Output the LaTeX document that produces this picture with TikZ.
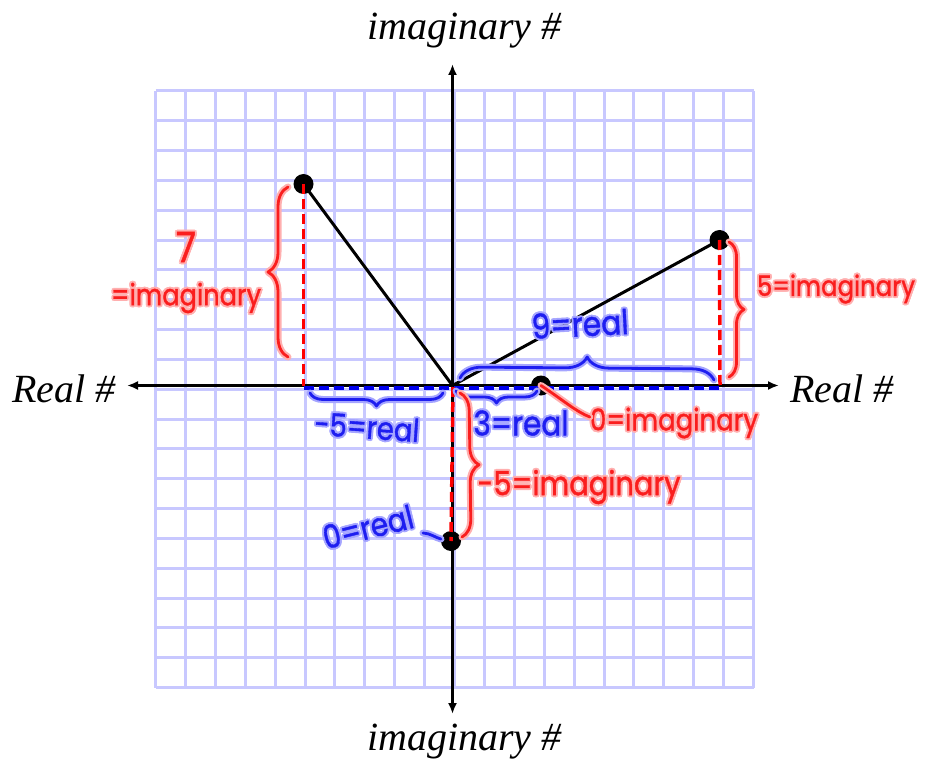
\documentclass[tikz,border=0pt]{standalone}
\usepackage{fontspec}
\setmainfont{Liberation Serif}
\newfontfamily\hwfont{Poppins}[FakeBold=1.2]
\usetikzlibrary{arrows.meta,decorations.pathreplacing}
\definecolor{gridc}{RGB}{200,200,255}
\definecolor{hred}{RGB}{250,30,30}
\definecolor{hredg}{RGB}{255,175,175}
\definecolor{hblue}{RGB}{30,30,240}
\definecolor{hblueg}{RGB}{165,165,255}
\definecolor{dred}{RGB}{255,0,0}
\definecolor{dblue}{RGB}{0,0,235}
\tikzset{
  gridline/.style={gridc,line width=3pt},
  axis/.style={black,line width=3pt,{Latex[length=11pt,width=9pt]}-{Latex[length=11pt,width=9pt]}},
  axlabel/.style={inner sep=0pt,font=\fontsize{40}{44}\selectfont\itshape},
  dot/.style={circle,fill=black,inner sep=0pt,minimum size=20pt},
  seg/.style={black,line width=3pt},
  reddash/.style={dred,line width=3.5pt,dash pattern=on 10pt off 5pt},
  bluedash/.style={dblue,line width=4pt,dash pattern=on 10pt off 5pt},
  hwnode/.style={inner sep=0pt},
  glowline/.style={line width=7pt,line cap=round,line join=round},
  mainline/.style={line width=2.8pt,line cap=round,line join=round}
}
\newcommand\hwbox[2]{\scalebox{1}[1.15]{\resizebox{#1pt}{!}{\hwfont\fontsize{28}{30}\selectfont #2}}}
\newcommand\hwlabel[7]{%
  \foreach \dx/\dy in {2/0,-2/0,0/2,0/-2,1.5/1.5,1.5/-1.5,-1.5/1.5,-1.5/-1.5}
    {\node[hwnode,text=#4,rotate=#6,xshift=\dx pt,yshift=\dy pt] at (#2) {\hwbox{#5}{#7}};}
  \node[hwnode,text=#3,rotate=#6] (#1) at (#2) {\hwbox{#5}{#7}};
}
\newcommand\gbrace[5]{%
  \draw[decorate,decoration={brace,amplitude=#3pt},glowline,#2] #4 -- #5;
  \draw[decorate,decoration={brace,amplitude=#3pt},mainline,#1] #4 -- #5;
}
\begin{document}
\begin{tikzpicture}[x=1pt,y=-1pt]
\useasboundingbox (0,0) rectangle (931,759);
% grid
\foreach \i in {0,...,20}{
  \draw[gridline,line cap=square] ({155.5+29.9*\i},91) -- ({155.5+29.9*\i},687.5);
  \draw[gridline,line cap=square] (155.5,{91+29.825*\i}) -- (753.5,{91+29.825*\i});
}
% axes
\coordinate (O) at (452.5,385.5);
\coordinate (axL) at (127,385.5);
\coordinate (axR) at (779,385.5);
\coordinate (axT) at (452.5,64);
\coordinate (axB) at (452.5,714);
\draw[axis] (axL) -- (axR);
\draw[axis] (axB) -- (axT);
\node[axlabel,anchor=base west] (rl) at (12,402) {Real \#};
\node[axlabel,anchor=base west] (rr) at (790,402) {Real \#};
\node[axlabel,anchor=base west] (it) at (367,40) {imaginary \#};
\node[axlabel,anchor=base west] (ib) at (367,750) {imaginary \#};
% points
\node[dot] (P1) at (303.5,184) {};
\node[dot] (P2) at (719.5,240) {};
\node[dot] (P3) at (541,385.5) {};
\node[dot] (P4) at (451,541) {};
\draw[seg] (O) -- (P1.center);
\draw[seg] (O) -- (P2.center);
% dashed projections
\coordinate (F1) at (303.5,385.5);
\coordinate (F2) at (720,385.5);
\coordinate (F1b) at (303.5,387.5);
\coordinate (F2b) at (720,387.5);
\coordinate (Od) at (453,387);
\draw[reddash] (P1.center) -- (F1);
\draw[reddash] (P2.center) -- (F2);
\draw[bluedash] (F1b) -- (F2b);
\draw[reddash] (Od) -- (P4.center);
% braces
\coordinate (b1s) at (288,357); \coordinate (b1e) at (288,187);
\coordinate (b2s) at (729,242); \coordinate (b2e) at (729,377);
\coordinate (b3s) at (460,378); \coordinate (b3e) at (714,380);
\coordinate (b4s) at (443,393); \coordinate (b4e) at (310,393);
\coordinate (b5s) at (537,391); \coordinate (b5e) at (456,391);
\coordinate (b6s) at (460,393); \coordinate (b6e) at (462,537);
\gbrace{hred}{hredg}{20}{(b1s)}{(b1e)}
\gbrace{hred}{hredg}{15}{(b2s)}{(b2e)}
\gbrace{hblue}{hblueg}{22}{(b3s)}{(b3e)}
\gbrace{hblue}{hblueg}{13}{(b4s)}{(b4e)}
\gbrace{hblue}{hblueg}{12}{(b5s)}{(b5e)}
\gbrace{hred}{hredg}{18}{(b6s)}{(b6e)}
% labels
\hwlabel{l7}{186,247}{hred}{hredg}{20}{0}{7}
\hwlabel{l7i}{186,298}{hred}{hredg}{150}{0}{=imaginary}
\hwlabel{l5i}{836,289}{hred}{hredg}{158}{0}{5=imaginary}
\hwlabel{l9r}{580,324}{hblue}{hblueg}{97}{3}{9=real}
\hwlabel{lm5r}{367,427}{hblue}{hblueg}{105}{-4}{-5=real}
\hwlabel{l3r}{521,423}{hblue}{hblueg}{95}{0}{3=real}
\hwlabel{l0i}{674,423}{hred}{hredg}{168}{0}{0=imaginary}
\hwlabel{lm5i}{579,487}{hred}{hredg}{203}{0}{-5=imaginary}
\hwlabel{l0r}{368,527}{hblue}{hblueg}{92}{14}{0=real}
% connectors
\coordinate (zrend) at (423,533);
\draw[glowline,hredg] (P3.center) .. controls (563,400) and (575,411) .. ([yshift=6pt]l0i.west);
\draw[mainline,hred] (P3.center) .. controls (563,400) and (575,411) .. ([yshift=6pt]l0i.west);
\draw[glowline,hblueg] (zrend) .. controls (430,533) and (436,538) .. (P4);
\draw[mainline,hblue] (zrend) .. controls (430,533) and (436,538) .. (P4);
\end{tikzpicture}
\end{document}
